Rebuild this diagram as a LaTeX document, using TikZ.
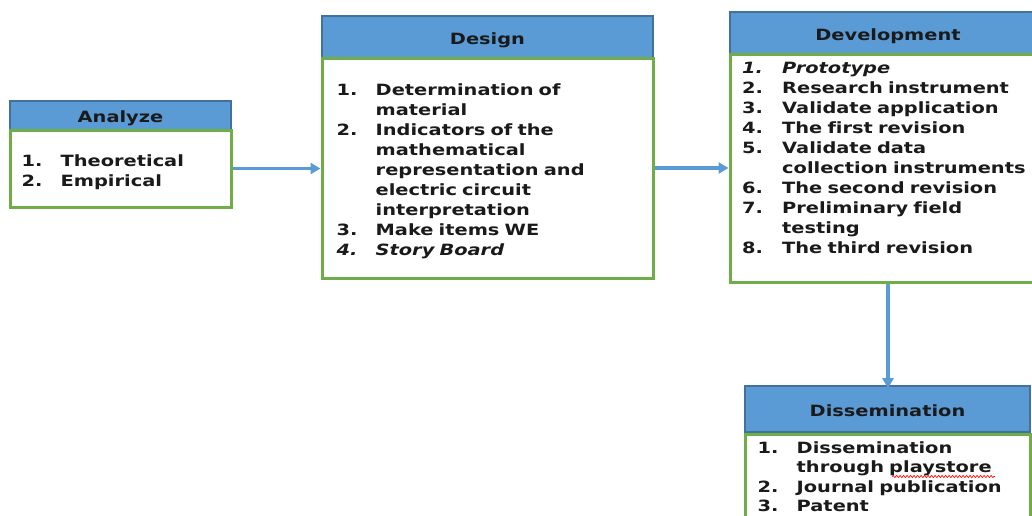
\documentclass[tikz,border=0pt]{standalone}
\usepackage{fontspec}
\setmainfont{DejaVu Sans}[FakeStretch=1.25, Ligatures={NoCommon}]
\usetikzlibrary{arrows.meta,decorations.pathmorphing}
\definecolor{hdrfill}{HTML}{5B9BD5}
\definecolor{hdrline}{HTML}{41719C}
\definecolor{bodyline}{HTML}{70AD47}
\definecolor{txt}{HTML}{1A1A1A}
\newcommand\itn[1]{\makebox[39pt][l]{#1}}
\newcommand\itnw[1]{\makebox[40pt][l]{#1}}
\newcommand\cont{\hspace*{39pt}}
\newcommand\contw{\hspace*{40pt}}
\tikzset{
  hdr/.style={draw=hdrline, line width=1.6pt, fill=hdrfill, inner sep=0pt,
    font=\fontsize{15.5}{20}\selectfont\bfseries, text=txt,
    text height=16pt, text depth=2pt},
  bodybox/.style={draw=bodyline, line width=3pt, fill=white, inner sep=0pt},
  listtext/.style={anchor=base west, inner sep=0pt, text width=300pt, align=left,
    font=\fontsize{15.5}{20}\selectfont\bfseries, text=txt},
  flow/.style={draw=hdrfill, line width=3.2pt, -{Triangle[width=11pt,length=10pt]}},
}
\begin{document}
\begin{tikzpicture}[x=1pt,y=-1pt]
\useasboundingbox (0,0) rectangle (1032,515);
\clip (0,0) rectangle (1032,515);
% Analyze
\node[hdr, minimum width=221pt, minimum height=29pt] (ah) at (120.5,115.5) {Analyze};
\node[bodybox, minimum width=221pt, minimum height=77pt] (ab) at (120.5,168.5) {};
\node[listtext] (at) at (21.5,166) {\itn{1.}Theoretical\\ \itn{2.}Empirical};
% Design
\node[hdr, minimum width=331pt, minimum height=42pt] (dh) at (487.5,37) {Design};
\node[bodybox, minimum width=331pt, minimum height=220pt] (db) at (487.5,168) {};
\node[listtext] (dt) at (336.5,95.7) {\itn{1.}Determination of\\ \cont material\\
  \itn{2.}Indicators of the\\ \cont mathematical\\ \cont representation and\\
  \cont electric circuit\\ \cont interpretation\\ \itn{3.}Make items WE\\
  {\itshape\itn{4.}Story Board}};
% Development
\node[hdr, minimum width=316pt, minimum height=42pt] (vh) at (888,33) {Development};
\node[bodybox, minimum width=316pt, minimum height=228pt] (vb) at (888,168) {};
\node[listtext] (vt) at (742,73.5) {{\itshape\itnw{1.}Prototype}\\ \itnw{2.}Research instrument\\
  \itnw{3.}Validate application\\ \itnw{4.}The first revision\\ \itnw{5.}Validate data\\
  \contw collection instruments\\ \itnw{6.}The second revision\\ \itnw{7.}Preliminary field\\
  \contw testing\\ \itnw{8.}The third revision};
% Dissemination
\node[hdr, minimum width=285pt, minimum height=46pt] (sh) at (887.5,409) {Dissemination};
\node[bodybox, minimum width=285pt, minimum height=108pt, anchor=north] (sb) at (sh.south) {};
\node[listtext, font=\fontsize{15.5}{19.5}\selectfont\bfseries] (st) at (757.5,453.3) {\itn{1.}Dissemination\\
  \cont through playstore\\ \itn{2.}Journal publication\\ \itn{3.}Patent};
\coordinate (sq1) at (892,476.5);
\coordinate (sq2) at (995,476.5);
\draw[red, line width=0.7pt, decorate, decoration={snake, amplitude=1pt, segment length=3.5pt}] (sq1) -- (sq2);
% connectors
\draw[flow] (ab.east) -- (ab.east -| db.west);
\draw[flow] (db.east) -- (db.east -| vb.west);
\draw[flow] (vb.south) -- ([yshift=-3pt]vb.south |- sh.north);
\end{tikzpicture}
\end{document}
